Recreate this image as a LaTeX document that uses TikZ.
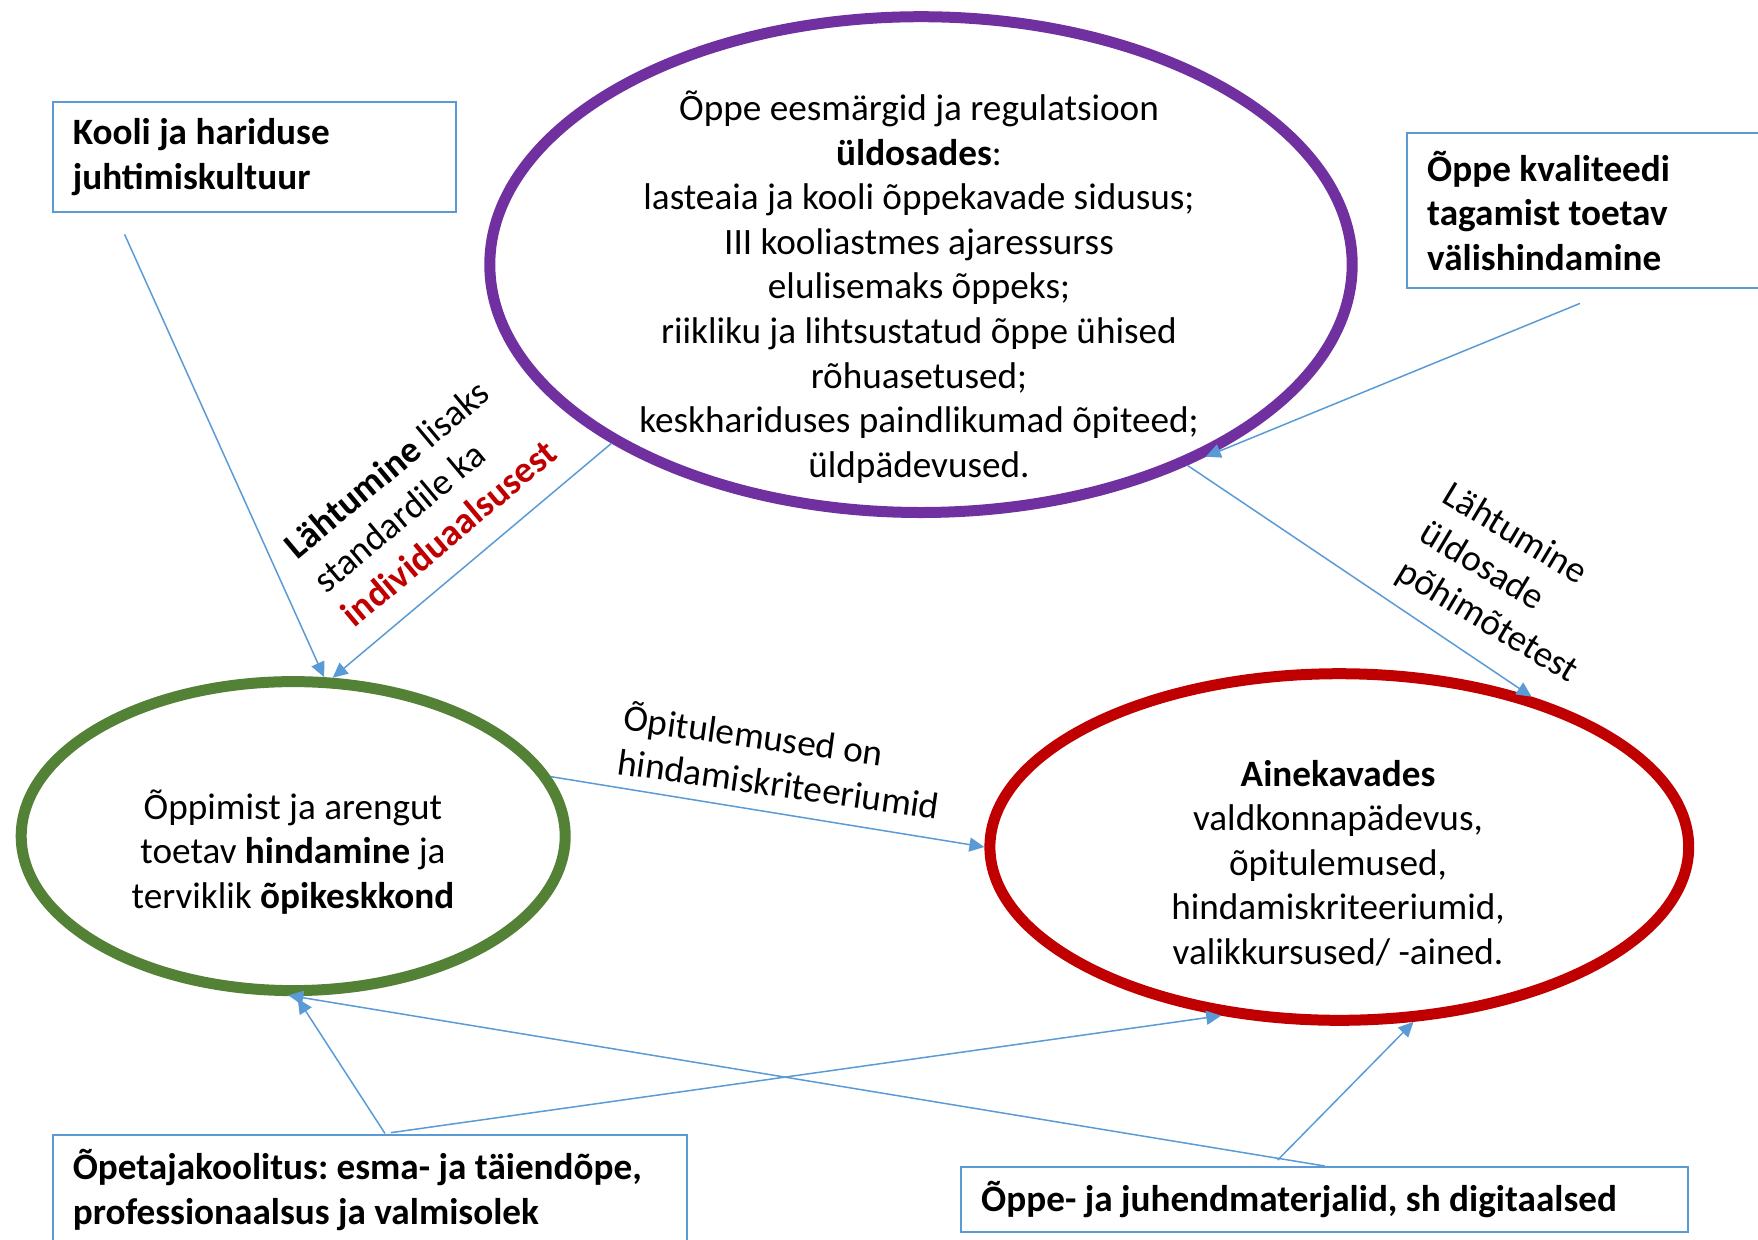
\documentclass[tikz,border=0pt]{standalone}
\usepackage{fontspec}
\setmainfont{Carlito}
\usepackage{tikz}
\usetikzlibrary{calc}
\usetikzlibrary{shapes.geometric, arrows.meta}
\frenchspacing
\definecolor{boxblue}{HTML}{5B9BD5}
\definecolor{ovalpurple}{HTML}{7030A0}
\definecolor{ovalgreen}{HTML}{538135}
\definecolor{ovalred}{HTML}{C00000}
\newcommand{\bodyfont}{\fontsize{18.6}{22.3}\selectfont}
\tikzstyle{oval} = [ellipse, 
line width=5.5pt, 
inner sep=0pt]
\tikzstyle{ovaltext} = [align=center, 
font=\bodyfont]
\tikzstyle{infobox} = [rectangle, 
draw=boxblue, 
line width=1.2pt, 
anchor=north west, 
align=flush left, 
inner xsep=10pt, 
font=\bodyfont\bfseries]
\tikzstyle{linklabel} = [align=left, font=\bodyfont]
\tikzstyle{arrow} = [draw=boxblue, line width=0.75pt, -{Triangle[length=7.5pt,width=7pt]}]

\begin{document}
\begin{tikzpicture}[x=0.5pt, y=-0.5pt]
    \useasboundingbox (0,0) rectangle (1758,1239);

    \node (uldosad) [oval, draw=ovalpurple, minimum width=431.2pt, minimum height=247.9pt] at (921,264.6) {};
    \node (hindamine) [oval, draw=ovalgreen, minimum width=272pt, minimum height=154.5pt] at (293.2,836.1) {};
    \node (ainekavad) [oval, draw=ovalred, minimum width=349.4pt, minimum height=173.3pt] at (1339.3,847) {};

    \node (uldosadtext) [ovaltext] at (919,287) {Õppe eesmärgid ja regulatsioon\\\textbf{üldosades}:\\lasteaia ja kooli õppekavade sidusus;\\III kooliastmes ajaressurss\\elulisemaks õppeks;\\riikliku ja lihtsustatud õppe ühised\\rõhuasetused;\\keskhariduses paindlikumad õpiteed;\\üldpädevused.};
    \node (hindaminetext) [ovaltext] at (293,852) {Õppimist ja arengut\\toetav \textbf{hindamine} ja\\terviklik \textbf{õpikeskkond}};
    \node (ainekavadtext) [ovaltext] at (1338,863) {\textbf{Ainekavades}\\valdkonnapädevus,\\õpitulemused,\\hindamiskriteeriumid,\\valikkursused/ -ained.};

    \node (kooli) [infobox, minimum height=55pt, text width=181.7pt] at (51.6,101) {Kooli ja hariduse\\juhtimiskultuur};
    \node (valis) [infobox, minimum height=77.5pt, text width=165pt] at (1406,132) {Õppe kvaliteedi\\tagamist toetav\\välishindamine};
    \node (opetaja) [infobox, minimum height=55.5pt, text width=297.2pt] at (51.6,1133.5) {Õpetajakoolitus: esma- ja täiendõpe,\\professionaalsus ja valmisolek};
    \node (materjal) [infobox, minimum height=32.5pt, text width=343.5pt] at (960,1166) {Õppe- ja juhendmaterjalid, sh digitaalsed};

    \node (lahtumine) [linklabel, rotate=40] at (420,499) {\textbf{Lähtumine} lisaks\\standardile ka\\\textcolor{ovalred}{\textbf{individuaalsusest}}};
    \node (pohimotted) [linklabel, rotate=-31] at (1510,584) {Lähtumine\\üldosade\\põhimõtetest};
    \node (opitulemused) [linklabel, rotate=-8] at (782,760) {Õpitulemused on\\hindamiskriteeriumid};

    \coordinate (kooliend) at ($(kooli.south west)+(73,21)$);
    \coordinate (valisend) at ($(valis.south west)+(174,14)$);
    \coordinate (opetajaend) at ($(opetaja.north)+(15,0)$);
    \coordinate (materjalend) at ($(materjal.north)+(-47,-6)$);

    \draw [arrow] (kooliend) -- (hindamine.79);
    \draw [arrow] (uldosad.210) -- (hindamine.76);
    \draw [arrow] (valisend) -- (uldosad.326);
    \draw [arrow] (uldosad.323) -- (ainekavad.38);
    \draw [arrow] (hindamine.13) -- (ainekavad.west);
    \draw [arrow, shorten >=1.5pt] (opetajaend) -- (hindamine.271);
    \draw [arrow, shorten <=3pt] (opetajaend) -- (ainekavad.235);
    \draw [arrow, shorten >=-2.5pt] (materjal.north) -- (hindamine.south);
    \draw [arrow] (materjalend) -- (ainekavad.293);

\end{tikzpicture}
\end{document}
